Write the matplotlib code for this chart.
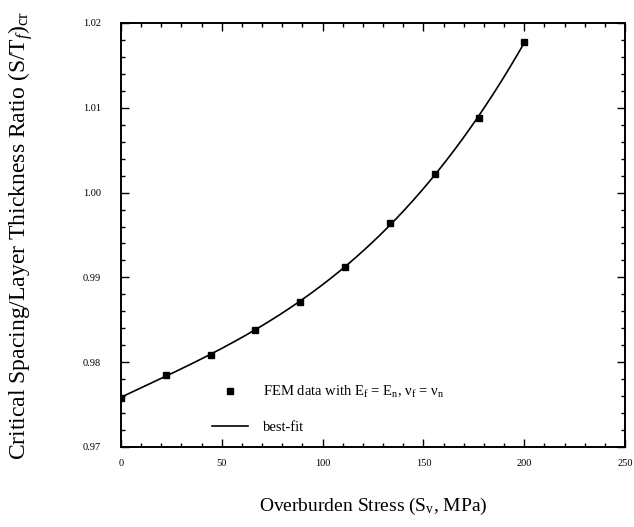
import numpy as np
import matplotlib
matplotlib.use("Agg")
import matplotlib.pyplot as plt
from matplotlib.ticker import MultipleLocator
from matplotlib.lines import Line2D

# Data
stress = [0.0, 22.2, 44.4, 66.7, 88.9, 111.1, 133.3, 155.6, 177.8, 200.0]
ratio = [0.9758, 0.9785, 0.9809, 0.9838, 0.9871, 0.9912, 0.9964, 1.0022, 1.0088, 1.0178]
xticks = [0, 50, 100, 150, 200, 250]
yticks = [0.97, 0.98, 0.99, 1.00, 1.01, 1.02]
ytick_labels = ["0.97", "0.98", "0.99", "1.00", "1.01", "1.02"]

plt.rcParams['font.family'] = ['Liberation Serif', 'DejaVu Serif']
plt.rcParams['mathtext.fontset'] = 'custom'
plt.rcParams['mathtext.rm'] = 'Liberation Serif'
plt.rcParams['mathtext.it'] = 'Liberation Serif:italic'

fig = plt.figure(figsize=(6.34, 5.27), dpi=100)
ax = fig.add_axes([121/634, 1-447/527, 504/634, 424/527])

# best-fit curve (cubic fit of the FEM data)
coef = np.polyfit(stress, ratio, 3)
xs = np.linspace(stress[0], stress[-1], 200)
ax.plot(xs, np.polyval(coef, xs), color='black', lw=1.2)
ax.plot(stress, ratio, linestyle='none', marker='s', ms=4.5, color='black')

ax.set_xlim(0, 250)
ax.set_ylim(0.97, 1.02)
ax.set_xticks(xticks)
ax.set_yticks(yticks)
ax.set_yticklabels(ytick_labels)
ax.xaxis.set_minor_locator(MultipleLocator(10))
ax.yaxis.set_minor_locator(MultipleLocator(0.002))
ax.tick_params(which='both', direction='in', top=True, right=True, width=1.0)
ax.tick_params(which='major', length=6, labelsize=7.5)
ax.tick_params(which='minor', length=3)
ax.tick_params(axis='y', which='major', pad=14.4)
ax.tick_params(axis='x', which='major', pad=8.6)
for s in ax.spines.values():
    s.set_linewidth(1.4)

ax.set_xlabel('Overburden Stress (S$_\\mathrm{v}$, MPa)', fontsize=14)
ax.xaxis.set_label_coords(0.5, -0.115)
ax.set_ylabel('Critical Spacing/Layer Thickness Ratio (S/T$_f$)$_\\mathrm{cr}$', fontsize=17)
ax.yaxis.set_label_coords(-0.17, 0.5)

handles = [Line2D([], [], linestyle='none', marker='s', ms=4.5, color='black'),
           Line2D([], [], color='black', lw=1.2)]
labels = ['FEM data with E$_\\mathrm{f}$ = E$_\\mathrm{n}$, \u03bd$_\\mathrm{f}$ = \u03bd$_\\mathrm{n}$',
          'best-fit']
ax.legend(handles, labels, loc='upper left', bbox_to_anchor=(0.169, 0.162),
          frameon=False, fontsize=10.5, handlelength=2.5, handletextpad=1.0,
          labelspacing=1.4, borderaxespad=0)

fig.savefig('out.png', dpi=100)
